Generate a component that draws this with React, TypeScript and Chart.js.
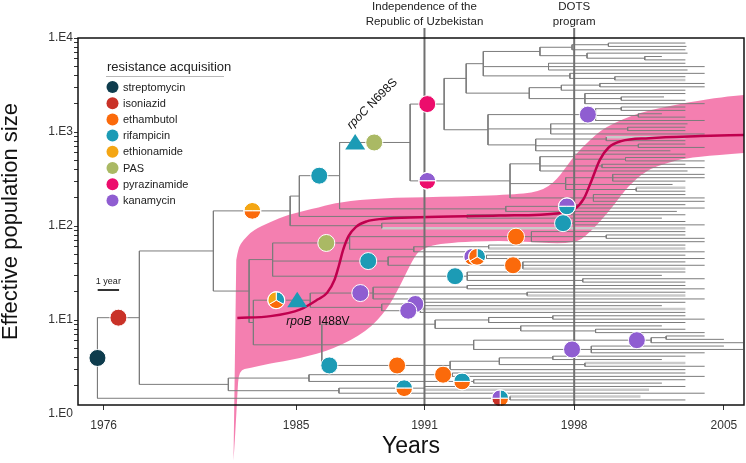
import React, { useEffect, useRef } from "react";
import { Chart, registerables } from "chart.js";

Chart.register(...registerables);

const FONT = "'Liberation Sans', Arial, Helvetica, sans-serif";

// ---------- axes ----------
const X_MIN = 1974.8;
const X_MAX = 2005.94;
const Y_MIN = 1.247;
const Y_MAX = 10000;
const X_TICK_YEARS = [1976, 1985, 1991, 1998, 2005];
const Y_DECADES = [1, 10, 100, 1000, 10000];
const Y_MINOR_STEPS = [2, 3, 4, 5, 6, 7, 8, 9];

// ---------- historical events ----------
const EVENT_YEARS = [1991, 1998];
const EVENT_LABELS = [
  ["Independence of the", "Republic of Uzbekistan"],
  ["DOTS", "program"],
];

// ---------- drugs ----------
const DRUG_KEYS = ["S", "H", "E", "R", "Eto", "PAS", "Z", "K"];
const DRUG_NAMES = [
  "streptomycin",
  "isoniazid",
  "ethambutol",
  "rifampicin",
  "ethionamide",
  "PAS",
  "pyrazinamide",
  "kanamycin",
];
const DRUG_COLORS = [
  "#0e3c4d",
  "#c93228",
  "#fb6a0b",
  "#1c9bb5",
  "#f4a614",
  "#aab964",
  "#ec0d6c",
  "#8f5dd1",
];

// ---------- skyline (effective population size) ----------
const MEDIAN_YEARS = [
  1982.25, 1983.8, 1985.2, 1986.0, 1986.45, 1986.8, 1987.0, 1987.2, 1987.45,
  1987.8, 1988.3, 1989.0, 1990.8, 1994.5, 1997.3, 1998.0, 1998.45, 1998.8,
  1999.2, 1999.6, 2000.2, 2001.5, 2003.9, 2005.94,
];
const MEDIAN_NE = [
  10.5, 11.0, 13.0, 16.5, 19.5, 27, 38, 56, 78, 98, 112, 119, 124, 129, 137,
  150, 195, 300, 505, 680, 800, 860, 905, 930,
];
const UPPER_YEARS = [
  1982.2, 1982.29, 1982.53, 1983.0, 1983.79, 1984.58, 1986.12, 1987.05,
  1988.93, 1991.73, 1994.86, 1996.4, 1997.2, 1997.94, 1998.73, 1999.44,
  2001.08, 2003.41, 2004.95, 2005.94,
];
const UPPER_NE = [
  43.5, 58.3, 71, 90.6, 110, 131, 159, 180, 199, 204, 214, 230, 308, 542, 822,
  1130, 1633, 2083, 2355, 2475,
];
const LOWER_YEARS = [
  1982.07, 1982.15, 1982.25, 1982.32, 1982.86, 1983.65, 1985.19, 1986.73,
  1988.32, 1989.25, 1989.86, 1990.47, 1990.8, 1991.73, 1994.86, 1997.94,
  1998.73, 1999.8, 2000.47, 2001.4, 2002.33, 2003.41, 2005.94,
];
const LOWER_NE = [
  0.32, 0.6, 1.6, 2.94, 3.09, 3.4, 3.9, 4.9, 7.6, 13, 23, 45, 56, 66, 71, 63,
  84, 159, 260, 394, 468, 542, 598,
];

// ---------- phylogeny ----------
// node: [id?, nodeYear, ...children]; tip: sampling year (negative = light grey tip)
const CLADE_N7 = ["n7", 1991.92,
  [1992.95,
    [1993.75,
      [1996.4,
        [1997.9, [1999.6, 2003.2, 2003.25], 2003.2],
        [1998.6, 2003.3, [2001.3, 2002.1, 2003.2]]],
      [1996.8, 2003.2, 2004.1, 2003.3],
      [1997.8, 2004.1, [1999.9, 2003.2, -2003.2]]],
    [1995.9,
      [1997.4, [1999.2, 2004.1, 2004.1], 2003.2],
      [1998.5, 2003.2, [2000.2, 2002.2, 2003.2], 2004.1]]],
  [1993.97,
    ["k1", 1999.0, [2000.2, 2003.2, 2003.2], [2001.0, 2002.1, 2003.2], 2004.1],
    [1996.9, 2003.3, [2000.5, 2003.2, 2003.2], 2004.1],
    [1996.2, [1999.5, -2003.2, 2003.2], [2001.0, 2003.2, 2004.1], 2002.5]]];

const CLADE_N6B = ["n6b", 1995.0,
  [1996.4, [1998.0, 2003.2, [2000.4, 2003.2, 2004.1]], [1999.3, 2003.2, 2004.1], 2003.3],
  [1997.6, [1999.8, 2004.1, 2004.1, 2003.2], 2002.6, [2000.9, -2003.2, 2003.2]],
  [1998.9, 2003.2, 2004.1, 2004.1]];

const CLADE_N5B = ["n5b", 1994.8, ["kr", 1998.1, 2003.2, 2004.1], 2002.8];
const CLADE_N4B = ["n4b", 1993.0, 2003.2, 2002.1];
const CLADE_N3B = ["n3b", 1989.0, ["r2", 1998.0, 2003.2, 2004.1], -2003.2];

const CLADE_P = ["p", 1983.9,
  ["pas", 1987.5,
    ["e1", 1996.0, 2003.2, [1999.5, 2003.2, 2004.1], 2004.1],
    [1990.5, [1994.0, 2003.2, -2003.2], 2004.1]],
  ["rf", 1989.3,
    ["pie1", 1993.9, 2003.2, 2004.1],
    ["e2", 1995.6, 2003.2, 2004.1, -2003.2]],
  ["r3", 1993.0, 2003.2, 2002.1, [1998.4, 2004.1, 2003.2]]];

const CLADE_Q = ["q", 1983.0,
  ["q1", 1985.66,
    ["k2", 1988.6, [1993.0, 2003.2, 2004.1], [1995.8, 2003.2, -2003.2], 2004.1],
    [1989.0, ["k3", 1991.0, 2003.2, 2002.1], ["k4", 1990.8, -2003.2, 2003.2]]],
  ["q2", 1986.2,
    [1991.5,
      [1994.0, [1997.0, 2003.2, 2004.1], 2003.2],
      [1995.5, 2002.1, [1999.0, 2003.2, 2004.1]]],
    [1993.3,
      ["k6", 2001.6, [2002.3, 2004.1, 2005.0], 2005.9],
      ["k7", 1998.8, 2005.0, 2005.9, 2004.1]],
    ["et", 1992.2,
      [1994.5, [1997.0, 2003.2, 2002.1], [1998.5, -2003.2, 2004.1]],
      2003.2]]];

const CLADE_D = ["d", 1981.83,
  ["dt", 1985.6, ["e3", 1992.3, 2003.2, 2004.1], ["re1", 1993.3, 2003.2, 2002.1]],
  ["db", 1987.0, ["re2", 1991.0, 2003.2, -2001.5], 2004.1]];

const CLADE_B = ["b", 1995.0, -2001.1, 2003.2];

const TREE = ["root", 1975.71,
  ["n1", 1977.67,
    ["n2", 1981.13,
      ["n3", 1984.72,
        ["n4", 1985.15,
          ["n5", 1987.03,
            ["n6", 1990.33, CLADE_N7, CLADE_N6B],
            CLADE_N5B],
          CLADE_N4B],
        CLADE_N3B],
      ["n2b", 1982.8, CLADE_P, CLADE_Q]],
    CLADE_D],
  CLADE_B];

// resistance acquisitions: [branch (node id), year, drugs, shape]
const MARKERS: [string, number, string[], string?][] = [
  ["root", 1975.71, ["S"]],
  ["n1", 1976.69, ["H"]],
  ["n3", 1982.95, ["Eto", "E"]],
  ["n5", 1986.08, ["R"]],
  ["n6", 1987.76, ["R"], "tri"],
  ["n6", 1988.65, ["PAS"]],
  ["n7", 1991.13, ["Z"]],
  ["n6b", 1991.13, ["K", "Z"]],
  ["k1", 1998.64, ["K"]],
  ["kr", 1997.66, ["K", "R"]],
  ["r2", 1997.48, ["R"]],
  ["e1", 1995.28, ["E"]],
  ["pas", 1986.41, ["PAS"]],
  ["rf", 1988.37, ["R"]],
  ["pie1", 1993.23, ["R", "E", "K"]],
  ["pie1", 1993.46, ["R", "E", "E"]],
  ["e2", 1995.14, ["E"]],
  ["r3", 1992.43, ["R"]],
  ["q1", 1984.07, ["R", "E", "Eto"]],
  ["q1", 1985.05, ["R"], "tri"],
  ["k2", 1988.0, ["K"]],
  ["k3", 1990.57, ["K"]],
  ["k4", 1990.24, ["K"]],
  ["k6", 2000.93, ["K"]],
  ["k7", 1997.9, ["K"]],
  ["et", 1986.55, ["R"]],
  ["et", 1989.72, ["E"]],
  ["e3", 1991.87, ["E"]],
  ["re1", 1992.76, ["R", "E"]],
  ["re2", 1990.05, ["R", "E"]],
  ["b", 1994.54, ["R", "E", "H", "K"]],
];

// mutation labels: [branch, year, gene, change, style]
const MUTATIONS: [string, number, string, string, string][] = [
  ["n6", 1987.76, "rpoC", "N698S", "diag"],
  ["q1", 1985.05, "rpoB", "I488V", "below"],
];

const SCALE_BAR_YEARS = [1975.72, 1976.72];

// ---------- tree layout ----------
type TNode = { id?: string; t: number; kids: TNode[]; row: number; tip: boolean; gray: boolean };
type Pt = { x: number; y: number | null };

function parseNode(src: any): TNode {
  if (typeof src === "number") {
    return { t: Math.abs(src), kids: [], row: 0, tip: true, gray: src < 0 };
  }
  const arr = src.slice();
  let id: string | undefined;
  if (typeof arr[0] === "string") id = arr.shift();
  const t = arr.shift();
  return { id, t, kids: arr.map(parseNode), row: 0, tip: false, gray: false };
}

function assignRows(n: TNode, counter: { v: number }) {
  if (n.tip) {
    n.row = counter.v++;
    return;
  }
  n.kids.forEach((k) => assignRows(k, counter));
  n.row = (n.kids[0].row + n.kids[n.kids.length - 1].row) / 2;
}

function collect(n: TNode, parentT: number | null, dark: Pt[], gray: Pt[], ids: Record<string, TNode>) {
  if (n.id) ids[n.id] = n;
  if (parentT !== null) {
    const target = n.gray ? gray : dark;
    target.push({ x: parentT, y: n.row }, { x: n.t, y: n.row }, { x: n.t, y: null });
  }
  if (!n.tip) {
    dark.push(
      { x: n.t, y: n.kids[0].row },
      { x: n.t, y: n.kids[n.kids.length - 1].row },
      { x: n.t, y: null }
    );
    n.kids.forEach((k) => collect(k, n.t, dark, gray, ids));
  }
}

function drugColor(key: string) {
  return DRUG_COLORS[DRUG_KEYS.indexOf(key)];
}

function smoothPath(ctx: CanvasRenderingContext2D, pts: { x: number; y: number }[], move: boolean) {
  if (move) ctx.moveTo(pts[0].x, pts[0].y);
  else ctx.lineTo(pts[0].x, pts[0].y);
  for (let i = 1; i < pts.length - 1; i++) {
    const mx = (pts[i].x + pts[i + 1].x) / 2;
    const my = (pts[i].y + pts[i + 1].y) / 2;
    ctx.quadraticCurveTo(pts[i].x, pts[i].y, mx, my);
  }
  ctx.lineTo(pts[pts.length - 1].x, pts[pts.length - 1].y);
}

export default function App() {
  const canvasRef = useRef<HTMLCanvasElement>(null);

  useEffect(() => {
    const canvas = canvasRef.current;
    if (!canvas) return;

    const root = parseNode(TREE);
    const counter = { v: 0 };
    assignRows(root, counter);
    const nTips = counter.v;
    const ids: Record<string, TNode> = {};
    const dark: Pt[] = [];
    const gray: Pt[] = [];
    collect(root, null, dark, gray, ids);

    const yTicks: number[] = [];
    Y_DECADES.forEach((d, i) => {
      yTicks.push(d);
      if (i < Y_DECADES.length - 1) Y_MINOR_STEPS.forEach((m) => yTicks.push(d * m));
    });

    const medianData = MEDIAN_YEARS.map((x, i) => ({ x, y: MEDIAN_NE[i] }));

    const bandPlugin = {
      id: "band",
      beforeDatasetsDraw(chart: any) {
        const { ctx, scales } = chart;
        const xs = scales.x;
        const ys = scales.y;
        const up = UPPER_YEARS.map((yr, i) => ({ x: xs.getPixelForValue(yr), y: ys.getPixelForValue(UPPER_NE[i]) }));
        const lo = LOWER_YEARS.map((yr, i) => ({ x: xs.getPixelForValue(yr), y: ys.getPixelForValue(LOWER_NE[i]) })).reverse();
        ctx.save();
        ctx.beginPath();
        smoothPath(ctx, up, true);
        smoothPath(ctx, lo, false);
        ctx.closePath();
        ctx.fillStyle = "rgba(240, 78, 146, 0.72)";
        ctx.fill();
        ctx.restore();
      },
    };

    const overlayPlugin = {
      id: "overlay",
      afterDatasetsDraw(chart: any) {
        const { ctx, scales, chartArea } = chart;
        const xs = scales.x;
        const rs = scales.row;
        ctx.save();
        // event lines
        EVENT_YEARS.forEach((yr, i) => {
          const px = xs.getPixelForValue(yr);
          ctx.strokeStyle = "#707070";
          ctx.lineWidth = 2;
          ctx.beginPath();
          ctx.moveTo(px, chartArea.top - 10);
          ctx.lineTo(px, chartArea.bottom);
          ctx.stroke();
          ctx.fillStyle = "#222";
          ctx.font = `11.5px ${FONT}`;
          ctx.textAlign = "center";
          ctx.textBaseline = "middle";
          EVENT_LABELS[i].forEach((line, j) => ctx.fillText(line, px, 7 + j * 14.5));
        });

        // markers
        const R = 8.5;
        MARKERS.forEach(([id, yr, drugs, shape]) => {
          const node = ids[id];
          if (!node) return;
          const px = xs.getPixelForValue(yr);
          const py = rs.getPixelForValue(node.row);
          if (shape === "tri") {
            ctx.beginPath();
            ctx.moveTo(px, py - 8.5);
            ctx.lineTo(px + 10, py + 7);
            ctx.lineTo(px - 10, py + 7);
            ctx.closePath();
            ctx.fillStyle = drugColor(drugs[0]);
            ctx.fill();
            return;
          }
          if (drugs.length === 1) {
            ctx.beginPath();
            ctx.arc(px, py, R, 0, Math.PI * 2);
            ctx.fillStyle = drugColor(drugs[0]);
            ctx.fill();
            ctx.strokeStyle = "#ffffff";
            ctx.lineWidth = 1;
            ctx.stroke();
            return;
          }
          const n = drugs.length;
          const start = n === 2 ? Math.PI : -Math.PI / 2;
          const step = (Math.PI * 2) / n;
          drugs.forEach((d, k) => {
            ctx.beginPath();
            ctx.moveTo(px, py);
            ctx.arc(px, py, R, start + k * step, start + (k + 1) * step);
            ctx.closePath();
            ctx.fillStyle = drugColor(d);
            ctx.fill();
            ctx.strokeStyle = "#ffffff";
            ctx.lineWidth = 1;
            ctx.stroke();
          });
          ctx.beginPath();
          ctx.arc(px, py, R, 0, Math.PI * 2);
          ctx.strokeStyle = "#ffffff";
          ctx.lineWidth = 1;
          ctx.stroke();
        });

        // mutation labels
        MUTATIONS.forEach(([id, yr, gene, change, style]) => {
          const node = ids[id];
          if (!node) return;
          const px = xs.getPixelForValue(yr);
          const py = rs.getPixelForValue(node.row);
          ctx.save();
          ctx.fillStyle = "#111";
          ctx.textBaseline = "alphabetic";
          ctx.textAlign = "left";
          if (style === "diag") {
            ctx.translate(px - 4, py - 13);
            ctx.rotate(-Math.PI / 4);
            ctx.font = `italic 12px ${FONT}`;
            ctx.fillText(gene, 0, 0);
            const w = ctx.measureText(gene + " ").width;
            ctx.font = `12px ${FONT}`;
            ctx.fillText(change, w, 0);
          } else {
            ctx.translate(px - 11, py + 25);
            ctx.font = `italic 12px ${FONT}`;
            ctx.fillText(gene, 0, 0);
            const w = ctx.measureText(gene + "  ").width;
            ctx.font = `12px ${FONT}`;
            ctx.fillText(change, w, 0);
          }
          ctx.restore();
        });
        ctx.restore();
      },
      afterDraw(chart: any) {
        const { ctx, chartArea, scales } = chart;
        const xs = scales.x;
        ctx.save();
        // frame
        ctx.strokeStyle = "#111";
        ctx.lineWidth = 1.5;
        ctx.strokeRect(chartArea.left, chartArea.top, chartArea.right - chartArea.left, chartArea.bottom - chartArea.top);

        // legend
        const lx = chartArea.left;
        const ty = chartArea.top;
        ctx.fillStyle = "#222";
        ctx.font = `13px ${FONT}`;
        ctx.textAlign = "left";
        ctx.textBaseline = "middle";
        ctx.fillText("resistance acquisition", lx + 29, ty + 29);
        ctx.strokeStyle = "#b8b8b8";
        ctx.lineWidth = 1;
        ctx.beginPath();
        ctx.moveTo(lx + 28, ty + 38.5);
        ctx.lineTo(lx + 146, ty + 38.5);
        ctx.stroke();
        DRUG_NAMES.forEach((name, i) => {
          const cy = ty + 49 + i * 16.2;
          ctx.beginPath();
          ctx.arc(lx + 34.5, cy, 6, 0, Math.PI * 2);
          ctx.fillStyle = DRUG_COLORS[i];
          ctx.fill();
          ctx.fillStyle = "#222";
          ctx.font = `11px ${FONT}`;
          ctx.fillText(name, lx + 45, cy + 0.5);
        });

        // 1 year scale bar
        const bx0 = xs.getPixelForValue(SCALE_BAR_YEARS[0]);
        const bx1 = xs.getPixelForValue(SCALE_BAR_YEARS[1]);
        ctx.strokeStyle = "#333";
        ctx.lineWidth = 2;
        ctx.beginPath();
        ctx.moveTo(bx0, ty + 252);
        ctx.lineTo(bx1, ty + 252);
        ctx.stroke();
        ctx.fillStyle = "#222";
        ctx.font = `9px ${FONT}`;
        ctx.textAlign = "center";
        ctx.fillText("1 year", (bx0 + bx1) / 2, ty + 244);
        ctx.restore();
      },
    };

    const chart = new Chart(canvas, {
      type: "line",
      data: {
        datasets: [
          {
            label: "median Ne",
            data: medianData,
            yAxisID: "y",
            borderColor: "#c0004e",
            borderWidth: 2.5,
            pointRadius: 0,
            cubicInterpolationMode: "monotone",
            fill: false,
          } as any,
          {
            label: "tree",
            data: dark,
            yAxisID: "row",
            borderColor: "#7c7c7c",
            borderWidth: 1,
            pointRadius: 0,
            spanGaps: false,
            tension: 0,
            fill: false,
            borderCapStyle: "butt",
          } as any,
          {
            label: "tree grey tips",
            data: gray,
            yAxisID: "row",
            borderColor: "#cacaca",
            borderWidth: 2.5,
            pointRadius: 0,
            spanGaps: false,
            tension: 0,
            fill: false,
          } as any,
        ],
      },
      options: {
        responsive: false,
        animation: false,
        devicePixelRatio: 1,
        events: [],
        layout: { padding: { top: 38, right: 2, left: 0, bottom: 0 } },
        plugins: { legend: { display: false }, tooltip: { enabled: false } },
        scales: {
          x: {
            type: "linear",
            position: "bottom",
            min: X_MIN,
            max: X_MAX,
            afterBuildTicks: (s: any) => {
              s.ticks = X_TICK_YEARS.map((v) => ({ value: v }));
            },
            afterFit: (s: any) => {
              s.height = 58;
            },
            ticks: {
              autoSkip: false,
              maxRotation: 0,
              padding: 8,
              color: "#333",
              font: { family: FONT, size: 12 },
              callback: (v: any) => String(v),
            },
            grid: { display: true, drawOnChartArea: false, drawTicks: true, tickLength: 5, color: "#333", tickColor: "#333" },
            border: { display: false },
            title: {
              display: true,
              text: "Years",
              color: "#111",
              font: { family: FONT, size: 23, lineHeight: 1.2 },
              padding: { top: 0, bottom: 3 },
            },
          },
          y: {
            type: "logarithmic",
            position: "left",
            min: Y_MIN,
            max: Y_MAX,
            afterBuildTicks: (s: any) => {
              s.ticks = yTicks.map((v) => ({ value: v }));
            },
            afterFit: (s: any) => {
              s.width = 78;
            },
            ticks: {
              autoSkip: false,
              padding: 1,
              color: "#333",
              font: { family: FONT, size: 12 },
              callback: (v: any) => {
                const l = Math.log10(Number(v));
                return Math.abs(l - Math.round(l)) < 1e-6 ? `1.E${Math.round(l)}` : "";
              },
            },
            grid: {
              display: true,
              drawOnChartArea: false,
              drawTicks: true,
              tickLength: 4,
              color: (c: any) => (c.tick && c.tick.value < Y_MIN ? "rgba(0,0,0,0)" : "#333"),
              tickColor: (c: any) => (c.tick && c.tick.value < Y_MIN ? "rgba(0,0,0,0)" : "#333"),
            },
            border: { display: false },
            title: {
              display: true,
              text: "Effective population size",
              color: "#111",
              font: { family: FONT, size: 22, lineHeight: 1 },
              padding: 0,
            },
          },
          row: {
            type: "linear",
            display: true,
            position: "right",
            reverse: true,
            min: -1.5,
            max: nTips - 1 + 1.5,
            afterFit: (s: any) => {
              s.width = 0;
            },
            ticks: { display: false },
            grid: { display: false, drawTicks: false },
            border: { display: false },
            title: { display: false },
          },
        },
      } as any,
      plugins: [bandPlugin, overlayPlugin],
    });

    return () => chart.destroy();
  }, []);

  return (
    <div style={{ position: "absolute", left: 0, top: 0, width: 746, height: 463, background: "#fff" }}>
      <canvas ref={canvasRef} width={746} height={463} style={{ display: "block" }} />
    </div>
  );
}
